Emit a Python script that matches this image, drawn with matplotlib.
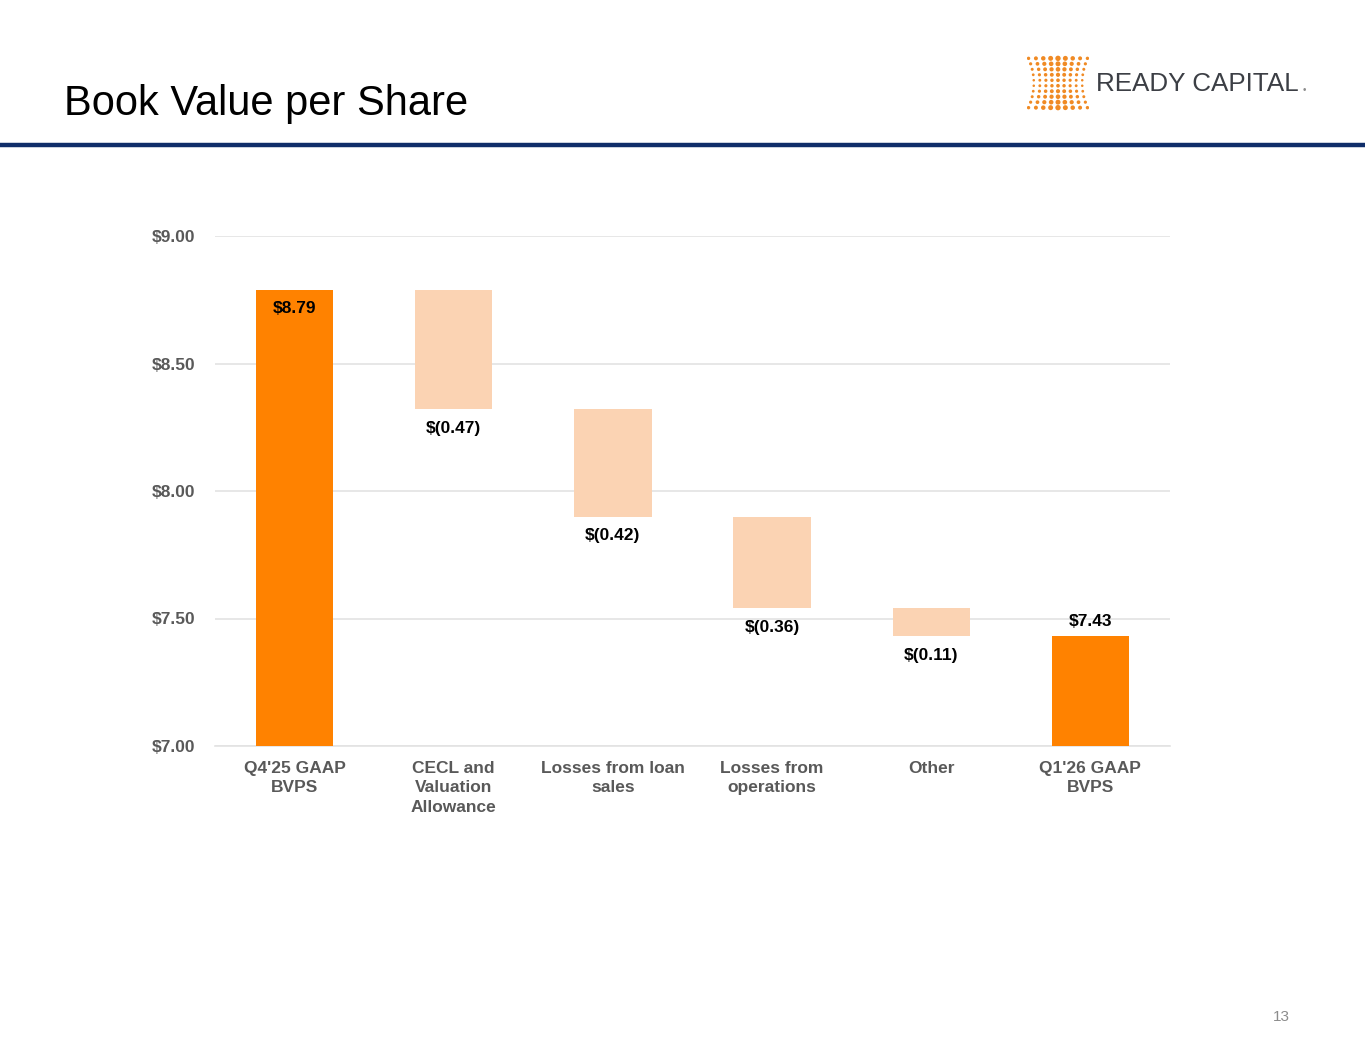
import numpy as np
import matplotlib
matplotlib.use("Agg")
import matplotlib.pyplot as plt

plt.rcParams['font.family'] = ['Liberation Sans', 'DejaVu Sans']

categories = ["Q4'25 GAAP\nBVPS", "CECL and\nValuation\nAllowance", "Losses from loan\nsales",
              "Losses from\noperations", "Other", "Q1'26 GAAP\nBVPS"]
start_value = 8.79
changes = [-0.47, -0.42, -0.36, -0.11]
end_value = 7.43
change_labels = ["$(0.47)", "$(0.42)", "$(0.36)", "$(0.11)"]
yticks = [7.00, 7.50, 8.00, 8.50, 9.00]

dark_orange = '#FF8200'
light_orange = '#FBD3B3'
gray = '#595959'

fig = plt.figure(figsize=(13.65, 10.55), dpi=100)

# header
fig.text(64 / 1365, 1 - 104 / 1055, "Book Value per Share", fontsize=30, color='black',
         va='center', ha='left')
fig.add_artist(plt.Line2D([0, 1], [1 - 145 / 1055, 1 - 145 / 1055], color='#0F2D69', lw=3.2))
fig.text(1281 / 1365, 1 - 1017 / 1055, "13", fontsize=11, color='#8C8C8C', ha='center', va='center')

# logo
logo = fig.add_axes([1027 / 1365, 1 - 112 / 1055, 62 / 1365, 58 / 1055])
logo.set_xlim(-1, 1)
logo.set_ylim(-1, 1)
logo.axis('off')
rows = np.linspace(-0.85, 0.85, 10)
for r in rows:
    t = abs(r) / 0.85
    half = 0.78 + 0.17 * t ** 2
    cols = np.linspace(-half, half, 9)
    c = np.abs(cols) / half
    sizes = 3 + 9 * (1 - c) * (0.35 + 0.65 * t) + 3 * t
    logo.scatter(cols, np.full_like(cols, r), s=sizes, color='#F08A24', linewidths=0)
fig.text(1096 / 1365, 1 - 84 / 1055, "READY CAPITAL", fontsize=18.7, color='#3C3F45',
         ha='left', va='center')
fig.text(1303 / 1365, 1 - 90 / 1055, "\u2022", fontsize=7, color='#8C8C8C', ha='left', va='center')

# waterfall
ax = fig.add_axes([215 / 1365, 1 - 746 / 1055, 955 / 1365, 510 / 1055])
x = np.arange(len(categories))
width = 0.485

ax.bar(x[0], start_value - 7, bottom=7, width=width, color=dark_orange, zorder=3)
ax.text(x[0], start_value - 0.045, "$8.79", ha='center', va='top', fontsize=12.5,
        fontweight='bold', color='black', zorder=4)

level = start_value
for i, ch in enumerate(changes):
    top = level
    level = level + ch
    ax.bar(x[i + 1], top - level, bottom=level, width=width, color=light_orange, zorder=3)
    ax.text(x[i + 1], level - 0.045, change_labels[i], ha='center', va='top', fontsize=12.5,
            fontweight='bold', color='black', zorder=4)

ax.bar(x[-1], end_value - 7, bottom=7, width=width, color=dark_orange, zorder=3)
ax.text(x[-1], end_value + 0.03, "$7.43", ha='center', va='bottom', fontsize=12.5,
        fontweight='bold', color='black', zorder=4)

ax.set_xlim(-0.5, len(categories) - 0.5)
ax.set_ylim(7, 9)
ax.set_yticks(yticks)
ax.set_yticklabels([f"${v:.2f}" for v in yticks], fontsize=12.5, fontweight='bold', color=gray)
ax.set_xticks(x)
ax.set_xticklabels(categories, fontsize=12.5, fontweight='bold', color=gray, linespacing=1.35)
ax.tick_params(axis='x', length=0, pad=11)
ax.tick_params(axis='y', length=0, pad=14)
ax.yaxis.grid(True, color='#E3E3E3', lw=1.2, zorder=0)
for s in ['top', 'right', 'left']:
    ax.spines[s].set_visible(False)
ax.spines['bottom'].set_color('#E3E3E3')
ax.spines['bottom'].set_linewidth(1.2)

plt.savefig('out.png', dpi=100)
